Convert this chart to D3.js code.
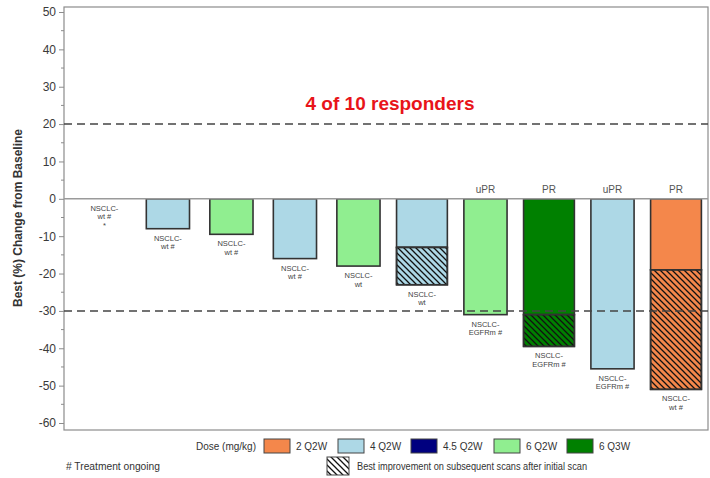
<!DOCTYPE html>
<html><head><meta charset="utf-8">
<script src="https://cdn.jsdelivr.net/npm/d3@7"></script>
<style>body{margin:0;background:#fff}svg{display:block;font-family:Arial,"Liberation Sans",sans-serif}</style>
</head><body><svg id="c" width="710" height="478"></svg>
<script>
const patients = ["P1","P2","P3","P4","P5","P6","P7","P8","P9","P10"];
const doses = [null,"4 Q2W","6 Q2W","4 Q2W","6 Q2W","4 Q2W","6 Q2W","6 Q3W","4 Q2W","2 Q2W"];
const initialChange = [0,-8,-9.5,-16,-18,-13,-31,-31,-45.5,-19];
const bestChange = [0,-8,-9.5,-16,-18,-23,-31,-39.5,-45.5,-51];
const responses = ["","","","","","","uPR","PR","uPR","PR"];
const labelLine1 = ["NSCLC-","NSCLC-","NSCLC-","NSCLC-","NSCLC-","NSCLC-","NSCLC-","NSCLC-","NSCLC-","NSCLC-"];
const labelLine2 = ["wt #","wt #","wt #","wt #","wt","wt","EGFRm #","EGFRm #","EGFRm #","wt #"];
const labelLine3 = ["*","","","","","","","","",""];
const doseLevels = ["2 Q2W","4 Q2W","4.5 Q2W","6 Q2W","6 Q3W"];
const doseColors = ["#F4874B","#ADD8E6","#00007F","#90EE90","#008000"];
const yTicks = [50,40,30,20,10,0,-10,-20,-30,-40,-50,-60];
const refLines = [20,-30];
const title = "4 of 10 responders";
const yTitle = "Best (%) Change from Baseline";

const svg = d3.select("#c");
const L = 64, R = 708, T = 7, B = 430;
const y = d3.scaleLinear().domain([50,-60]).range([12,423]);
const x = d3.scalePoint().domain(patients).range([104.4,676]);
const step = x.step();
const color = d3.scaleOrdinal().domain(doseLevels).range(doseColors);

const defs = svg.append("defs");
const pat = defs.append("pattern").attr("id","hatch").attr("patternUnits","userSpaceOnUse")
  .attr("width",6).attr("height",6);
pat.append("path").attr("d","M0,0 L6,6 M-1,5 L1,7 M5,-1 L7,1")
  .attr("stroke","#111").attr("stroke-width",1.3);

// frame
svg.append("rect").attr("x",L).attr("y",T).attr("width",R-L).attr("height",B-T)
  .attr("fill","none").attr("stroke","#8c8c8c").attr("stroke-width",1.2);

// y axis
const yAxis = d3.axisLeft(y).tickValues(yTicks).tickSize(5).tickFormat(d=>String(d));
const ga = svg.append("g").attr("transform",`translate(${L},0)`).call(yAxis);
ga.select(".domain").remove();
ga.selectAll(".tick line").attr("stroke","#8c8c8c");
ga.selectAll(".tick text").attr("fill","#3a3a3a").attr("font-size",12).attr("x",-8);
const minor = d3.range(-55,50,10);
svg.append("g").selectAll("line").data(minor).join("line")
  .attr("x1",L-3).attr("x2",L).attr("y1",d=>y(d)).attr("y2",d=>y(d)).attr("stroke","#8c8c8c");

svg.append("text").attr("transform",`translate(22,218) rotate(-90)`)
  .attr("text-anchor","middle").attr("font-size",12).attr("font-weight","bold").attr("fill","#333")
  .text(yTitle);

// bars
const data = patients.map((p,i)=>({p,dose:doses[i],init:initialChange[i],best:bestChange[i],
  resp:responses[i],l1:labelLine1[i],l2:labelLine2[i],l3:labelLine3[i]}));
const bw = d => d.best < d.init ? step*0.8 : step*0.68;
const g = svg.append("g");
data.filter(d=>d.dose).forEach(d=>{
  const w = bw(d), cx = x(d.p);
  g.append("rect").attr("x",cx-w/2).attr("y",y(0)).attr("width",w).attr("height",y(d.init)-y(0))
    .attr("fill",color(d.dose)).attr("stroke","#333").attr("stroke-width",1.6);
  if(d.best < d.init){
    g.append("rect").attr("x",cx-w/2).attr("y",y(d.init)).attr("width",w).attr("height",y(d.best)-y(d.init))
      .attr("fill",color(d.dose)).attr("stroke","#333").attr("stroke-width",1.6);
    g.append("rect").attr("x",cx-w/2).attr("y",y(d.init)).attr("width",w).attr("height",y(d.best)-y(d.init))
      .attr("fill","url(#hatch)").attr("stroke","#333").attr("stroke-width",1.6);
  }
});

// zero line
svg.append("line").attr("x1",L).attr("x2",R).attr("y1",y(0)).attr("y2",y(0))
  .attr("stroke","#9a9a9a").attr("stroke-width",1.5);

// ref lines
svg.append("g").selectAll("line").data(refLines).join("line")
  .attr("x1",L).attr("x2",R).attr("y1",d=>y(d)).attr("y2",d=>y(d))
  .attr("stroke","#444").attr("stroke-width",1.5).attr("stroke-dasharray","8,5");

// bar labels
data.forEach(d=>{
  const cx = x(d.p), b = y(d.best);
  const lines = [d.l1,d.l2,d.l3].filter(s=>s);
  lines.forEach((s,k)=>{
    svg.append("text").attr("x",cx).attr("y",b+12+k*8.5).attr("text-anchor","middle")
      .attr("font-size",7.5).attr("fill","#444").text(s);
  });
  if(d.resp){
    svg.append("text").attr("x",cx).attr("y",y(0)-6).attr("text-anchor","middle")
      .attr("font-size",10).attr("fill","#555").text(d.resp);
  }
});

// title
svg.append("text").attr("x",390).attr("y",110).attr("text-anchor","middle")
  .attr("font-size",19).attr("font-weight","bold").attr("fill","#E8141A").text(title);

// legend
const lg = svg.append("g").attr("font-size",10).attr("fill","#333");
lg.append("text").attr("x",196).attr("y",450).attr("font-size",10).attr("fill","#333").text("Dose (mg/kg)");
const legX = [264,338,411,494,567];
doseLevels.forEach((dl,i)=>{
  lg.append("rect").attr("x",legX[i]).attr("y",439).attr("width",26).attr("height",14)
    .attr("fill",doseColors[i]).attr("stroke","#444").attr("stroke-width",1);
  lg.append("text").attr("x",legX[i]+32).attr("y",450).attr("fill","#333").text(dl);
});
lg.append("rect").attr("x",327).attr("y",457).attr("width",22).attr("height",18)
  .attr("fill","url(#hatch)").attr("stroke","#444").attr("stroke-width",1);
lg.append("text").attr("x",357).attr("y",470).attr("fill","#333").attr("textLength",230)
  .attr("lengthAdjust","spacingAndGlyphs").text("Best improvement on subsequent scans after initial scan");
lg.append("text").attr("x",66).attr("y",470).attr("fill","#333").attr("textLength",94)
  .attr("lengthAdjust","spacingAndGlyphs").text("# Treatment ongoing");
</script></body></html>
